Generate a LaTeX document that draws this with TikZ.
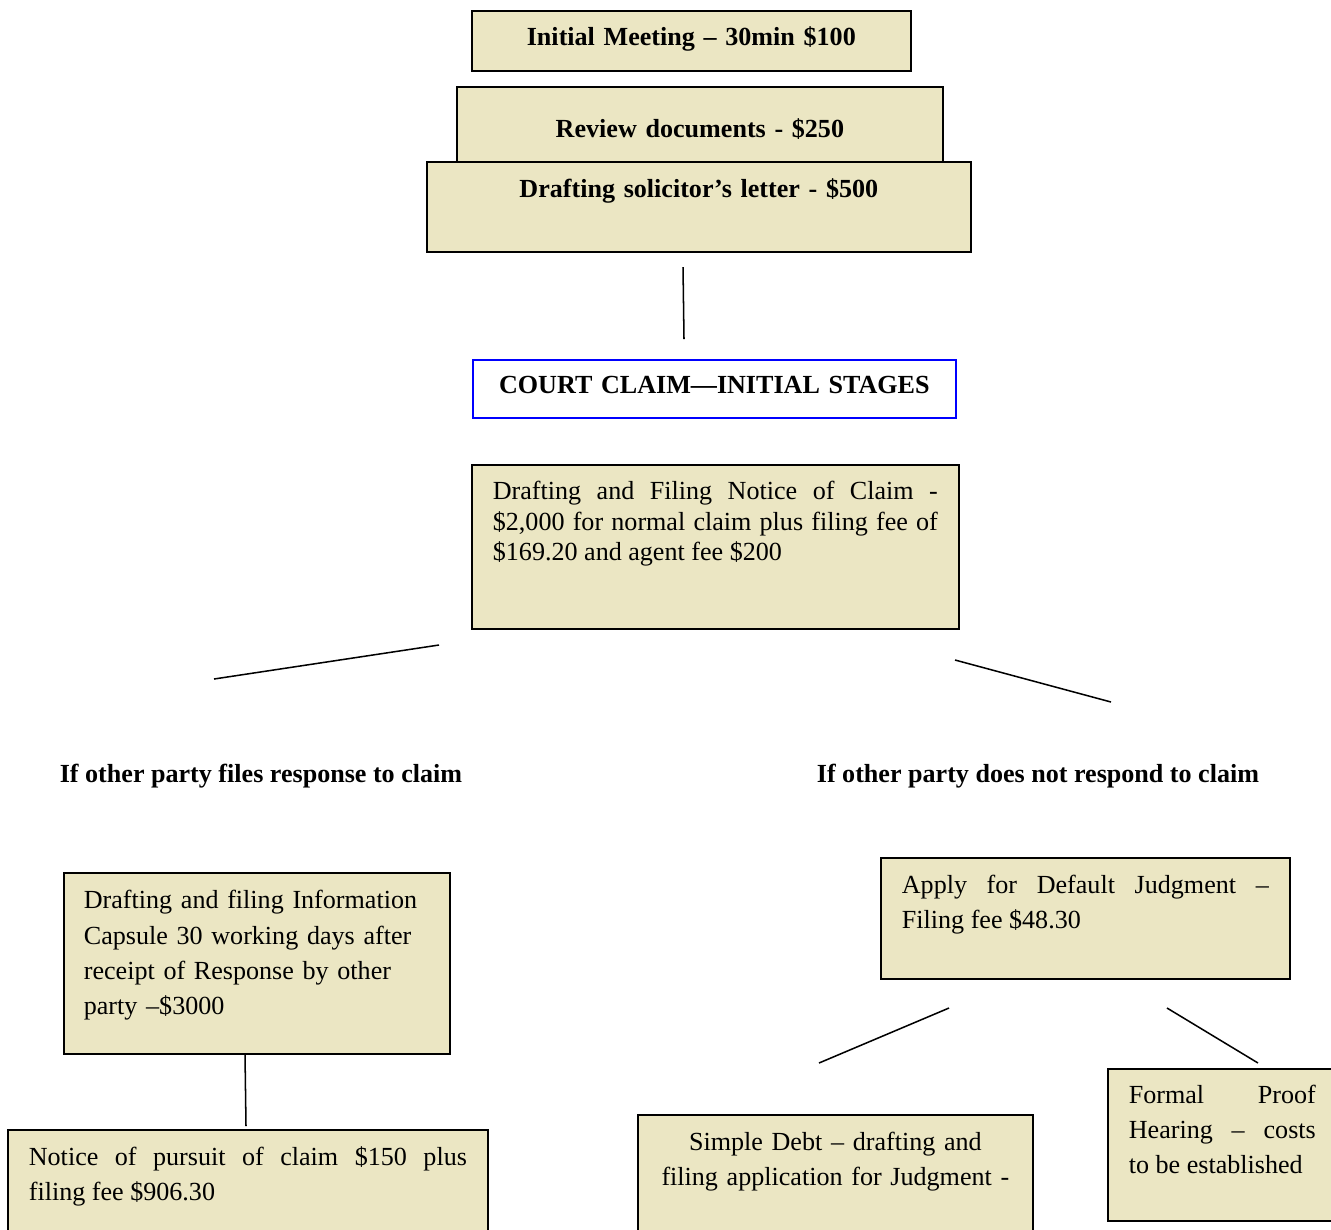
\documentclass[tikz,border=0pt]{standalone}
\usepackage{fontspec}
\setmainfont{Liberation Serif}
\usetikzlibrary{positioning}
\definecolor{cardfill}{RGB}{235,230,195}
\definecolor{titleblue}{RGB}{0,0,255}

\begin{document}
\begin{tikzpicture}[x=0.46pt, y=-0.46pt,
    card/.style={draw, fill=cardfill, line width=0.8pt, anchor=north west, inner ysep=0pt,
      font=\fontsize{12}{16.1}\selectfont},
    head/.style={font=\fontsize{12}{14}\selectfont\bfseries},
    link/.style={line width=0.7pt}]
    \path[use as bounding box, clip] (0,0) rectangle (1331,1229);

    % letter stage
    \node[card, head, align=center, inner xsep=0pt, text width=201.9pt,
      text height=16.1pt, text depth=11.5pt] (meet) at (471,10) {Initial Meeting – 30min \$100};
    \node[card, head, align=center, inner xsep=0pt, text width=223.6pt,
      text height=23.5pt, text depth=15.2pt] (review) at (456,86) {Review documents - \$250};
    \node[card, head, align=center, inner xsep=0pt, text width=250.2pt,
      text height=16.6pt, text depth=24.8pt] (letter) at (426,161) {Drafting solicitor’s letter - \$500};

    \coordinate (l1) at (683,267);
    \coordinate (l2) at (684,339);
    \draw[link] (l1) -- (l2);

    % court claim
    \node[card, head, draw=titleblue, fill=white, align=center, inner xsep=0pt, text width=222.2pt,
      text height=15.6pt, text depth=11pt] (court) at (472,359) {COURT CLAIM—INITIAL STAGES};
    \node[card, font=\fontsize{12}{14}\selectfont, align=justify, inner xsep=9.66pt, text width=204.7pt,
      text height=16.1pt, text depth=59.3pt] (claim) at (471,464)
      {Drafting and Filing Notice of Claim -\linebreak \$2,000 for normal claim plus filing fee of\linebreak \$169.20 and agent fee \$200};

    \coordinate (a1) at (439,645);
    \coordinate (a2) at (214,679);
    \coordinate (b1) at (955,660);
    \coordinate (b2) at (1111,702);
    \draw[link] (a1) -- (a2);
    \draw[link] (b1) -- (b2);

    \node[head] (resp) at (261,776) {If other party files response to claim};
    \node[head] (noresp) at (1038,776) {If other party does not respond to claim};

    % response branch
    \node[card, font=\fontsize{12}{16.2}\selectfont, align=left, inner xsep=9.2pt, text width=159.2pt,
      text height=16.6pt, text depth=66.7pt] (capsule) at (63,872)
      {Drafting and filing Information\\ Capsule 30 working days after\\ receipt of Response by other\\ party –\$3000};
    \node[card, align=justify, inner xsep=9.66pt, text width=201.5pt,
      text height=16.6pt, text depth=43.7pt] (pursuit) at (7,1129)
      {Notice of pursuit of claim \$150 plus\linebreak filing fee \$906.30};
    \coordinate (c1) at (245,1054);
    \coordinate (c2) at (246,1126);
    \draw[link] (c1) -- (c2);

    % no response branch
    \node[card, align=justify, inner xsep=9.66pt, text width=168.8pt,
      text height=16.6pt, text depth=39.1pt] (default) at (880,857)
      {Apply for Default Judgment –\linebreak Filing fee \$48.30};
    \node[card, align=center, inner xsep=0pt, text width=181.7pt,
      text height=16.6pt, text depth=50pt] (debt) at (637,1114)
      {Simple Debt – drafting and\\ filing application for Judgment -};
    \node[card, align=justify, inner xsep=9.66pt, text width=86pt,
      text height=16.1pt, text depth=53.8pt] (proof) at (1107,1068)
      {Formal Proof\linebreak Hearing – costs\linebreak to be established};

    \coordinate (d1) at (949,1008);
    \coordinate (d2) at (819,1063);
    \coordinate (e1) at (1167,1008);
    \coordinate (e2) at (1258,1063);
    \draw[link] (d1) -- (d2);
    \draw[link] (e1) -- (e2);
\end{tikzpicture}
\end{document}
